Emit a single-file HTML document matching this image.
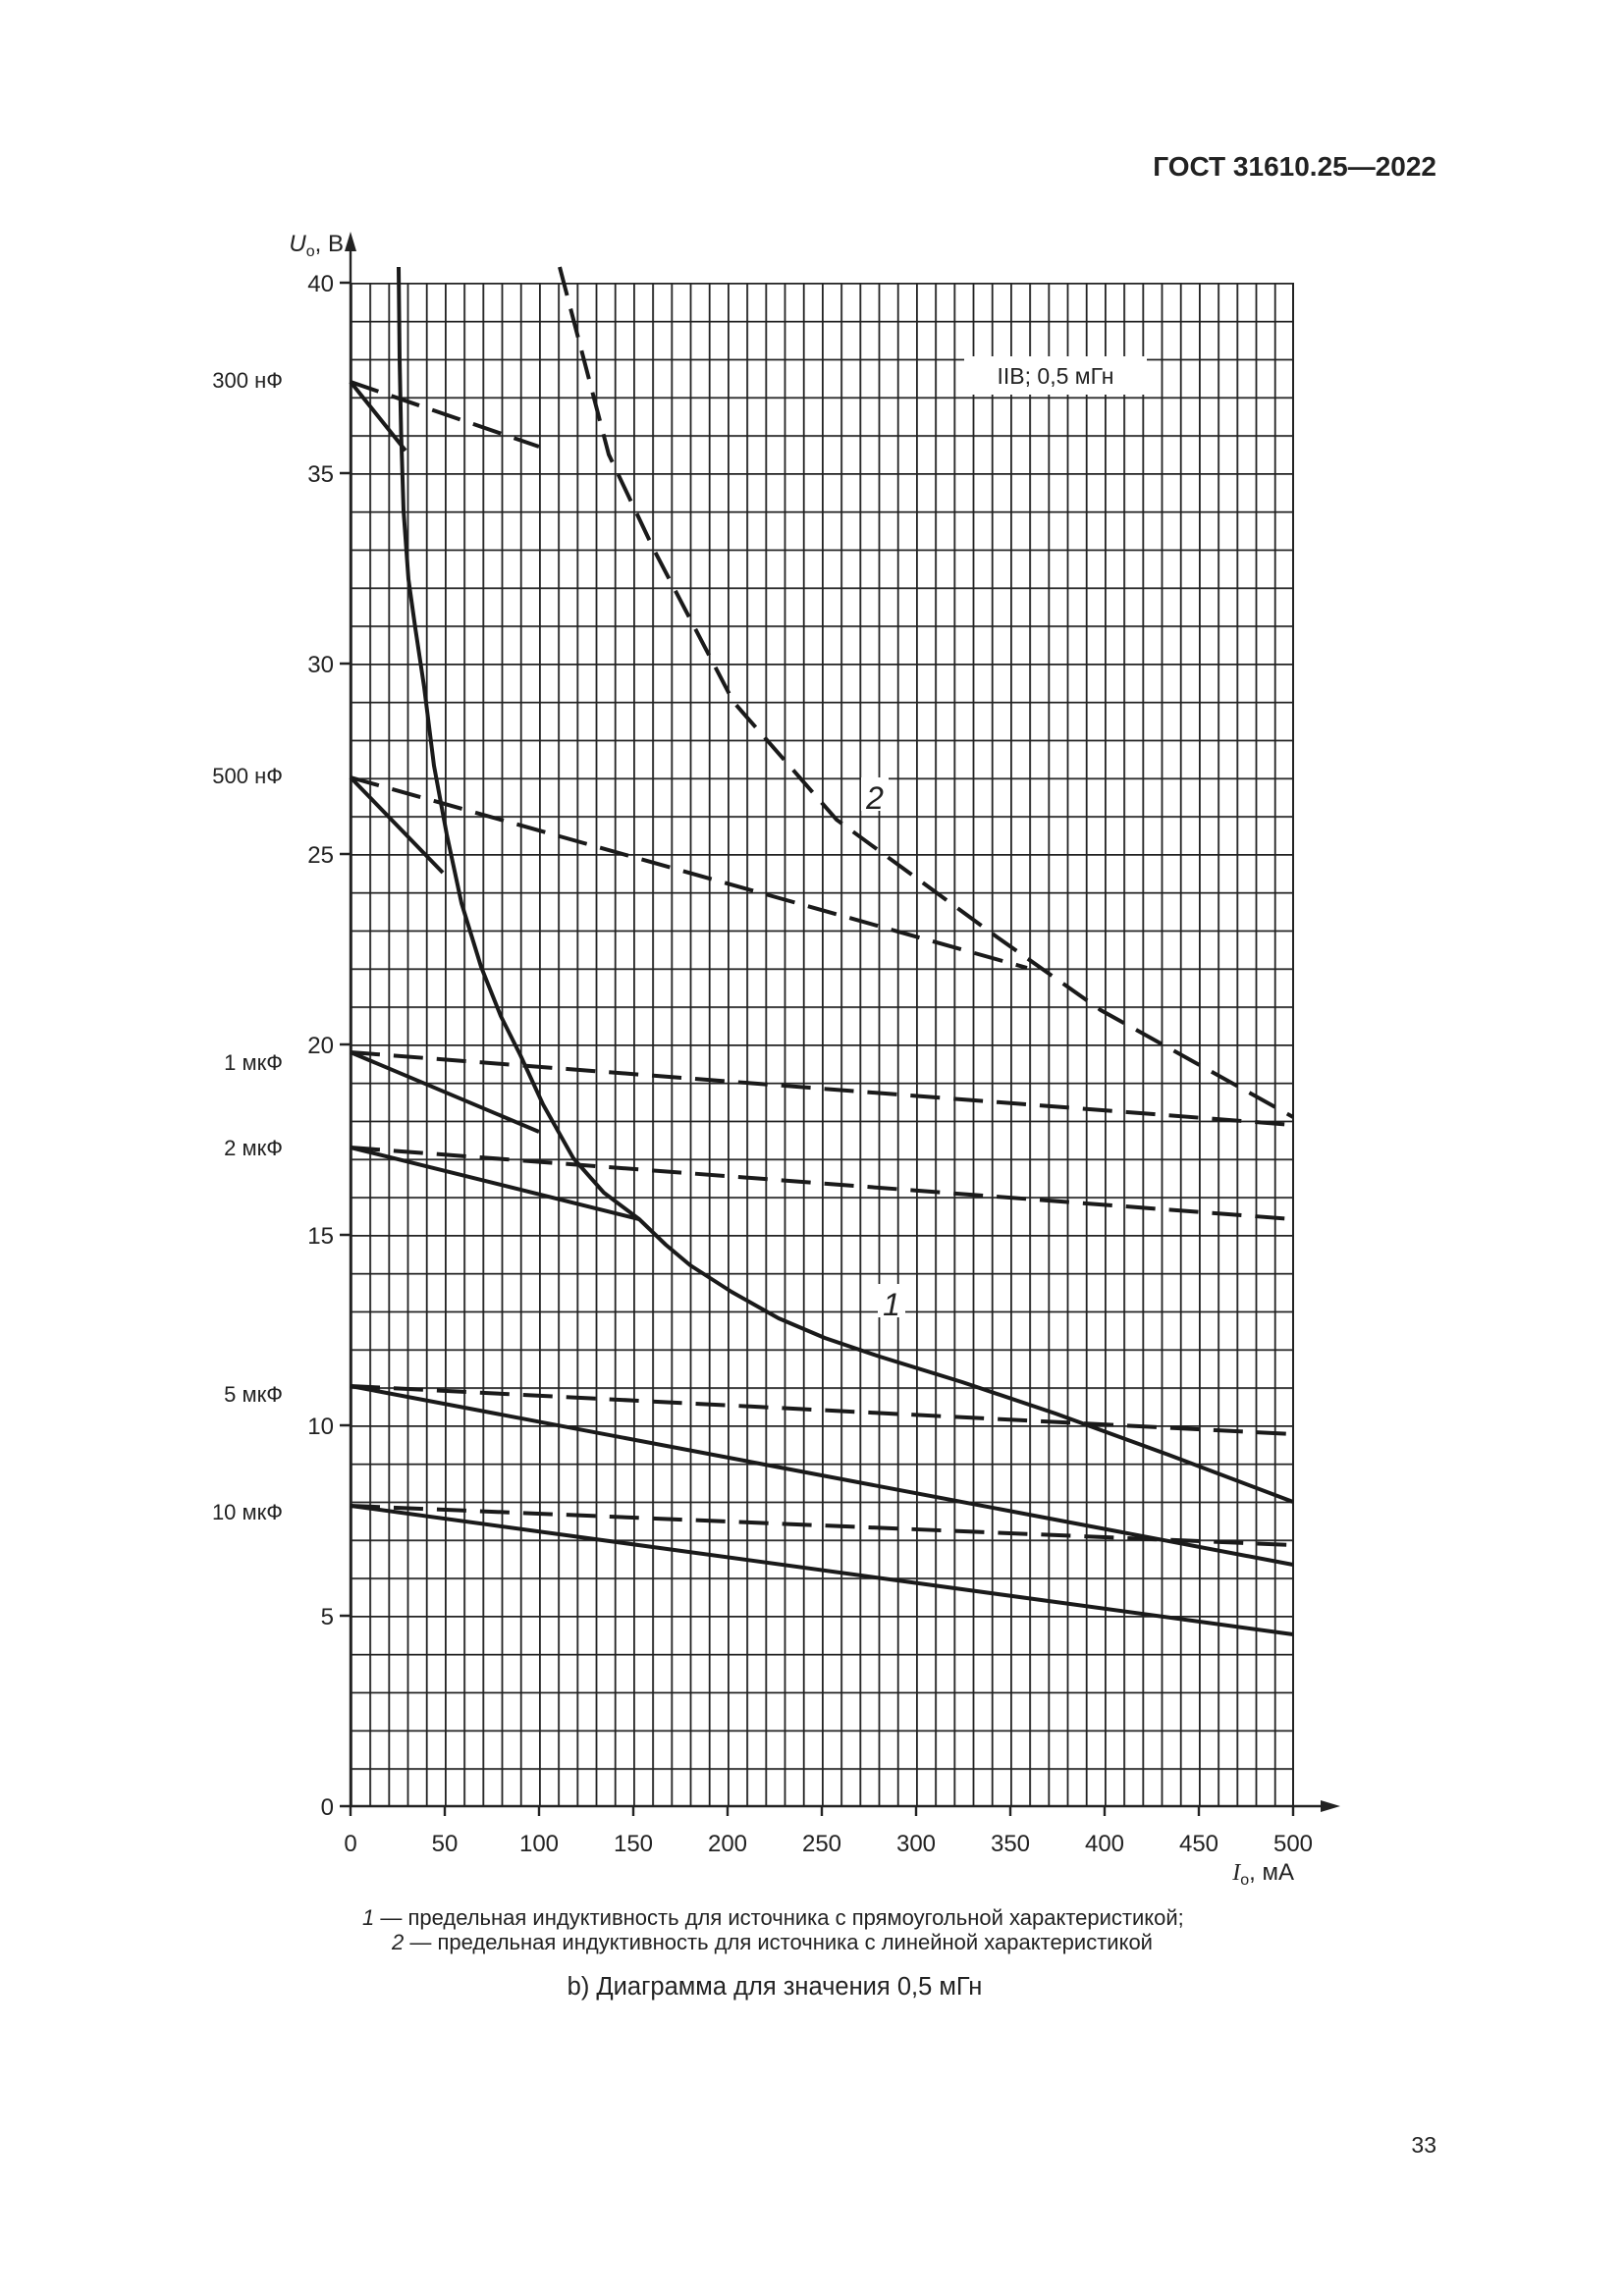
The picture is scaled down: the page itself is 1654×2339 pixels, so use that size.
<!DOCTYPE html>
<html><head><meta charset="utf-8"><style>
html,body{margin:0;padding:0;background:#fff}
svg{display:block}
text{font-family:"Liberation Sans",Arial,sans-serif;fill:#222}
</style></head><body>
<svg width="1654" height="2339" viewBox="0 0 1654 2339" xmlns="http://www.w3.org/2000/svg">
<defs>
<pattern id="g" x="357" y="288" width="19.2" height="38.8" patternUnits="userSpaceOnUse">
<path d="M0.8,0V38.8M0,0.8H19.2" stroke="#222" stroke-width="2" fill="none"/>
</pattern>
</defs>
<text x="1463" y="179" font-size="28" font-weight="bold" text-anchor="end">ГОСТ 31610.25—2022</text>
<rect x="357" y="288" width="960" height="1552" fill="url(#g)"/>
<path d="M1317,288V1840" stroke="#222" stroke-width="2"/>
<g stroke="#222" stroke-width="2.4">
<path d="M357,1840V250M357,1840H1345"/>
<path d="M346,288H357M346,482H357M346,676H357M346,870H357M346,1064H357M346,1258H357M346,1452H357M346,1646H357M346,1840H357"/>
<path d="M357,1840v10M453,1840v10M549,1840v10M645,1840v10M741,1840v10M837,1840v10M933,1840v10M1029,1840v10M1125,1840v10M1221,1840v10M1317,1840v10"/>
</g>
<path d="M351,256L357,236L363,256Z" fill="#222"/>
<path d="M1345,1834L1365,1840L1345,1846Z" fill="#222"/>
<g font-size="24" text-anchor="end">
<text x="340" y="297">40</text><text x="340" y="491">35</text><text x="340" y="685">30</text>
<text x="340" y="879">25</text><text x="340" y="1073">20</text><text x="340" y="1267">15</text>
<text x="340" y="1461">10</text><text x="340" y="1655">5</text><text x="340" y="1849">0</text>
</g>
<g font-size="24" text-anchor="middle">
<text x="357" y="1886">0</text><text x="453" y="1886">50</text><text x="549" y="1886">100</text>
<text x="645" y="1886">150</text><text x="741" y="1886">200</text><text x="837" y="1886">250</text>
<text x="933" y="1886">300</text><text x="1029" y="1886">350</text><text x="1125" y="1886">400</text>
<text x="1221" y="1886">450</text><text x="1317" y="1886">500</text>
</g>
<text x="1318" y="1915" font-size="24" text-anchor="end"><tspan font-family="Liberation Serif" font-style="italic">I</tspan><tspan font-size="16" dy="5">о</tspan><tspan dy="-5">, мА</tspan></text>
<text x="350" y="256" font-size="24" text-anchor="end"><tspan font-style="italic">U</tspan><tspan font-size="16" dy="5">о</tspan><tspan dy="-5">, В</tspan></text>
<g font-size="22" text-anchor="end">
<text x="288" y="395">300 нФ</text><text x="288" y="798">500 нФ</text>
<text x="288" y="1090">1 мкФ</text><text x="288" y="1177">2 мкФ</text>
<text x="288" y="1428">5 мкФ</text><text x="288" y="1548">10 мкФ</text>
</g>
<rect x="982" y="363" width="186" height="39" fill="#fff"/>
<text x="1075" y="391" font-size="23" text-anchor="middle">IIB; 0,5 мГн</text>
<g fill="none" stroke="#1a1a1a" stroke-width="4" stroke-linejoin="round">
<path d="M406,272 L407,366 L408.5,440 L411,520 L416,590 L423,640 L432,700 L442,780 L455,850 L470,920 L490,985 L510,1035 L530,1075 L553,1125 L584,1180 L615,1215 L651,1242 L678,1268 L703,1289 L745,1316 L793,1343 L840,1363 L896,1382 L980,1408 L1075,1440 L1190,1482 L1317,1530"/>
<path d="M357,389L413,459M357,792L451,889M357,1072L549,1153M357,1169L651,1242M357,1412L1317,1594M357,1534L1317,1665"/>
</g>
<g fill="none" stroke="#1a1a1a" stroke-width="4" stroke-dasharray="30,14">
<path d="M570,272 L620,463 L666,560 L747,715 L852,835 L1016,955 L1121,1029 L1317,1138"/>
<path d="M357,389L549,455M357,792L1046,986M357,1072L1317,1146M357,1169L1317,1242M357,1412L1317,1461M357,1534L1317,1574"/>
</g>
<rect x="877" y="792" width="28" height="34" fill="#fff"/>
<text x="891" y="824" font-size="32" font-style="italic" text-anchor="middle">2</text>
<rect x="894" y="1308" width="28" height="34" fill="#fff"/>
<text x="908" y="1340" font-size="32" font-style="italic" text-anchor="middle">1</text>
<text x="369" y="1961" font-size="22"><tspan font-style="italic">1</tspan> — предельная индуктивность для источника с прямоугольной характеристикой;</text>
<text x="399" y="1986" font-size="22"><tspan font-style="italic">2</tspan> — предельная индуктивность для источника с линейной характеристикой</text>
<text x="789" y="2032" font-size="25.5" text-anchor="middle">b) Диаграмма для значения 0,5 мГн</text>
<text x="1463" y="2193" font-size="23" text-anchor="end">33</text>
</svg>
</body></html>
